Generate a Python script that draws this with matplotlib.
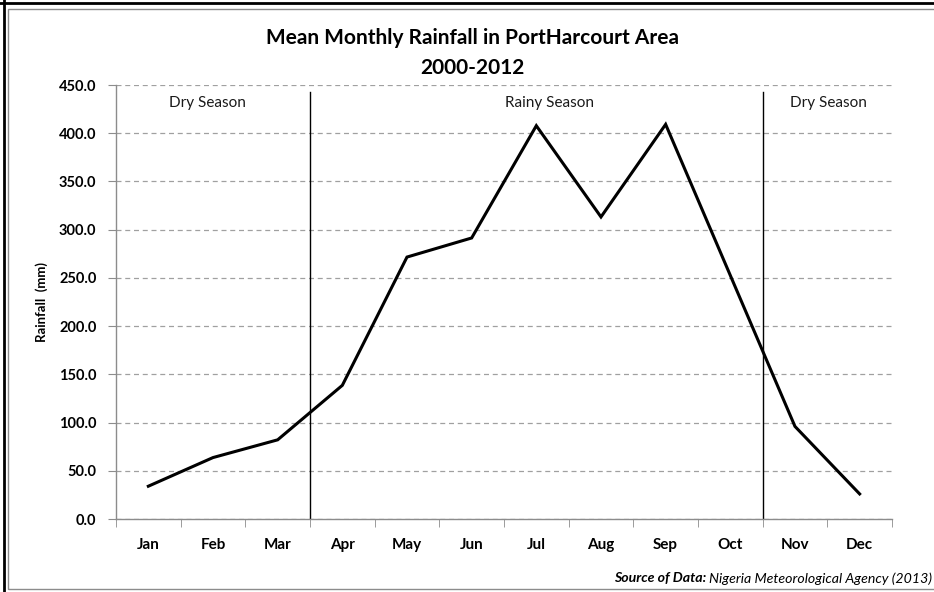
import matplotlib
matplotlib.use("Agg")
import matplotlib.pyplot as plt
from matplotlib.patches import Rectangle
from matplotlib.lines import Line2D

# mean monthly rainfall, Port Harcourt 2000-2012
months = ["Jan", "Feb", "Mar", "Apr", "May", "Jun", "Jul", "Aug", "Sep", "Oct", "Nov", "Dec"]
rainfall = [34.0, 63.7, 82.1, 138.6, 271.6, 291.4, 407.8, 313.2, 409.2, 252.6, 96.0, 26.0]

# season boundaries sit between Mar/Apr and Oct/Nov
season_breaks = [2.5, 9.5]
season_names = ["Dry Season", "Rainy Season", "Dry Season"]
season_label_x = [0.91, 6.21, 10.51]

yticks = [0, 50, 100, 150, 200, 250, 300, 350, 400, 450]

plt.rcParams["font.family"] = ["Lato", "DejaVu Sans"]

fig = plt.figure(figsize=(9.34, 5.92), dpi=100)
ax = fig.add_axes([0.1242, 0.1233, 0.8308, 0.7331])

x = list(range(len(months)))
ax.plot(x, rainfall, color="black", linewidth=2.2, solid_joinstyle="miter")

for b in season_breaks:
    ax.plot([b, b], [0, 443], color="black", linewidth=1.0)

for name, sx in zip(season_names, season_label_x):
    ax.text(sx, 431, name, ha="center", va="center", fontsize=11, color="#1a1a1a")

ax.set_xlim(-0.5, 11.5)
ax.set_ylim(0, 450)
ax.set_yticks(yticks)
ax.set_yticklabels(["%.1f" % v for v in yticks], fontweight="bold", fontsize=10.5)
ax.set_xticks(x)
ax.set_xticklabels(months, fontweight="bold", fontsize=11)
ax.set_xticks([i + 0.5 for i in range(-1, 12)], minor=True)
ax.tick_params(axis="x", which="major", length=0, pad=14)
ax.tick_params(axis="x", which="minor", length=6, color="#8c8c8c", direction="out")
ax.tick_params(axis="y", length=6, color="#8c8c8c", direction="out", pad=8)

ax.yaxis.grid(True, linestyle=(0, (4, 3)), color="#a0a0a0", linewidth=0.9)
ax.set_axisbelow(True)
for s in ["top", "right"]:
    ax.spines[s].set_visible(False)
for s in ["left", "bottom"]:
    ax.spines[s].set_color("#8c8c8c")
    ax.spines[s].set_linewidth(1.0)

ax.set_ylabel("Rainfall  (mm)", fontweight="bold", fontsize=9.5, labelpad=8)

fig.text(0.506, 0.935, "Mean Monthly Rainfall in PortHarcourt Area", ha="center", va="center",
         fontsize=15, fontweight="bold")
fig.text(0.506, 0.885, "2000-2012", ha="center", va="center", fontsize=15, fontweight="bold")

# source note: bold italic lead-in followed by the agency name
src = fig.text(0.998, 0.023, "Nigeria Meteorological Agency (2013)", ha="right", va="center",
               fontsize=10.2, style="italic")
ax.annotate("Source of Data: ", xy=(0, 0.5), xycoords=src, ha="right", va="center",
            fontsize=10.2, style="italic", fontweight="bold", annotation_clip=False)

# chart frame
fig.patches.append(Rectangle((0.009, 0.005), 1.0, 0.979, transform=fig.transFigure,
                             fill=False, edgecolor="#8c8c8c", linewidth=1.0))
fig.lines.append(Line2D([0.004, 0.004], [0, 1], transform=fig.transFigure, color="black", linewidth=2))
fig.lines.append(Line2D([0, 1], [0.995, 0.995], transform=fig.transFigure, color="black", linewidth=2))

fig.savefig("out.png", dpi=100)
